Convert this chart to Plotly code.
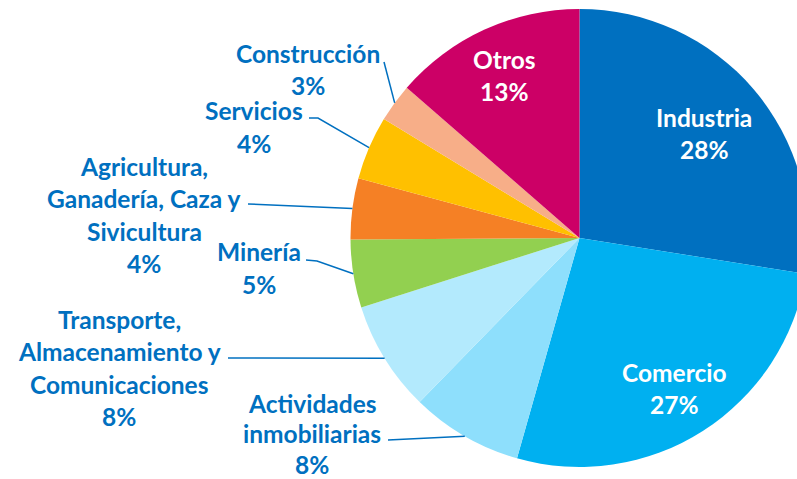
import math
import plotly.graph_objects as go

# ---------------- data ----------------
sectors = ["Industria", "Comercio", "Actividades inmobiliarias",
           "Transporte, Almacenamiento y Comunicaciones", "Minería",
           "Agricultura, Ganadería, Caza y Sivicultura", "Servicios",
           "Construcción", "Otros"]
values = [27.5, 26.9, 7.9, 7.8, 4.8, 4.3, 4.5, 2.7, 13.6]
pct_labels = ["28%", "27%", "8%", "8%", "5%", "4%", "4%", "3%", "13%"]
label_lines = [
    ["Industria"],
    ["Comercio"],
    ["Actividades", "inmobiliarias"],
    ["Transporte,", "Almacenamiento y", "Comunicaciones"],
    ["Minería"],
    ["Agricultura,", "Ganadería, Caza y", "Sivicultura"],
    ["Servicios"],
    ["Construcción"],
    ["Otros"],
]
colors = ["#0070C0", "#00B0F0", "#8EDFFC", "#B3EAFD", "#92D050",
          "#F58025", "#FFC000", "#F7AE88", "#CC0066"]

# ---------------- layout constants ----------------
W, H = 809, 479
ML, MR, MT, MB = 350, 0, 9, 12
PW, PH = W - ML - MR, H - MT - MB
CX, CY = ML + PW / 2, MT + PH / 2
R = min(PW, PH) / 2
BLUE = "#0070C0"
FONT = "Lato"
FS = 24.5

# label block placement: pixel centre of first line, line pitch, inside flag, leader elbows
label_pos = {
    0: (704, 117, 32.5, True, []),
    1: (674, 372, 32.5, True, []),
    2: (312, 403, 30.5, False, [(388, 440)]),
    3: (119, 319, 32.5, False, [(228, 358)]),
    4: (259, 252, 32.5, False, [(317, 261), (306, 260)]),
    5: (144, 166, 32.5, False, [(248, 204)]),
    6: (254, 111, 32.5, False, [(318, 118), (309, 118)]),
    7: (308, 53, 32.5, False, [(384, 62)]),
    8: (504, 59, 32.5, True, []),
}


def px(x):
    return (x - ML) / PW


def py(y):
    return 1 - (y - MT) / PH


fig = go.Figure(go.Pie(
    labels=sectors, values=values, sort=False, direction="clockwise",
    rotation=0, marker=dict(colors=colors, line=dict(width=0)),
    textinfo="none", hoverinfo="skip", showlegend=False,
    domain=dict(x=[0, 1], y=[0, 1]),
))

total = sum(values)
annotations = []
shapes = []
cum = 0.0
for i, v in enumerate(values):
    mid = (cum + v / 2) / total * 2 * math.pi
    cum += v
    ex = CX + R * math.sin(mid)
    ey = CY - R * math.cos(mid)
    x0, y0, pitch, inside, elbows = label_pos[i]
    color = "white" if inside else BLUE
    lines = label_lines[i] + [pct_labels[i]]
    for k, t in enumerate(lines):
        annotations.append(dict(
            x=px(x0), y=py(y0 + k * pitch), xref="paper", yref="paper",
            text="<b>" + t + "</b>", showarrow=False,
            xanchor="center", yanchor="middle",
            font=dict(family=FONT, size=FS, color=color)))
    if elbows:
        pts = [(ex, ey)] + elbows
        path = "M " + " L ".join(f"{px(a):.5f},{py(b):.5f}" for a, b in pts)
        shapes.append(dict(type="path", path=path, xref="paper", yref="paper",
                           line=dict(color=BLUE, width=1.5)))

fig.update_layout(
    width=W, height=H,
    margin=dict(l=ML, r=MR, t=MT, b=MB, pad=0),
    paper_bgcolor="white", plot_bgcolor="white",
    annotations=annotations, shapes=shapes,
)

fig.write_html("out.html", config={"displayModeBar": False},
               post_script="document.body.style.margin='0';"
                           "document.body.style.overflow='hidden';"
                           "document.documentElement.style.overflow='hidden';")
